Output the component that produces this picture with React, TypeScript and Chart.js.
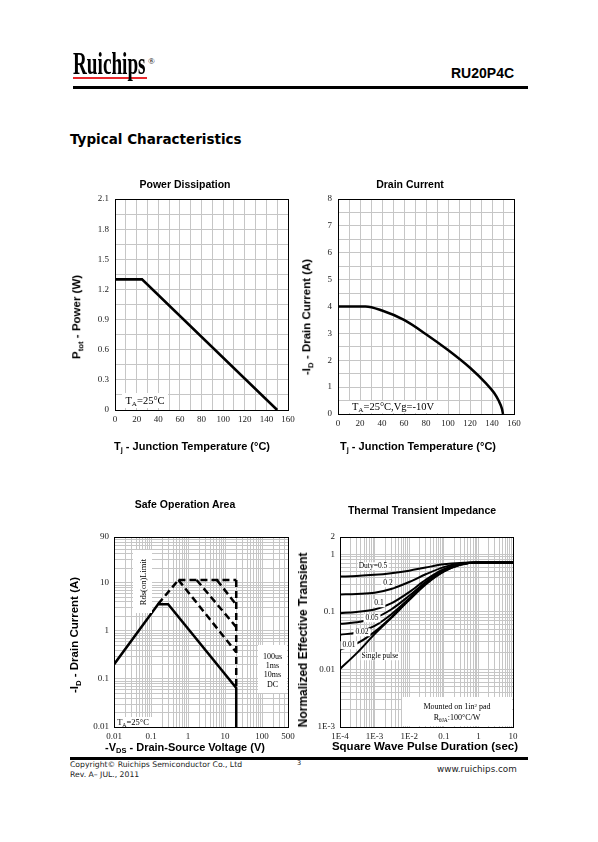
import React, { useEffect, useRef } from "react";
import { Chart, registerables } from "chart.js";

Chart.register(...registerables);

// ---------------- data ----------------
// Power dissipation vs junction temperature
const pdTemp = [0, 25, 150];
const pdPower = [1.3, 1.3, 0];
const pdYLabels = ["0", "0.3", "0.6", "0.9", "1.2", "1.5", "1.8", "2.1"];
const tempLabels = ["0", "20", "40", "60", "80", "100", "120", "140", "160"];

// Drain current vs junction temperature
const idTemp = [0, 25, 40, 60, 80, 100, 120, 135, 142, 146, 149, 150];
const idCurrent = [4, 4, 3.85, 3.5, 2.97, 2.38, 1.72, 1.12, 0.78, 0.5, 0.2, 0];
const idYLabels = ["0", "1", "2", "3", "4", "5", "6", "7", "8"];

// Safe operating area
const soaDcV = [0.01, 0.155, 0.29, 20, 20];
const soaDcI = [0.2, 3.6, 3.6, 0.065, 0.01];
const soaRdsV = [0.155, 0.55];
const soaRdsI = [3.6, 11.5];
const soaTopV = [0.55, 20];
const soaTopI = [11.5, 11.5];
const soa10msV = [0.55, 20];
const soa10msI = [11.5, 0.36];
const soa1msV = [1.7, 20];
const soa1msI = [11.5, 1.2];
const soa100usV = [6, 20];
const soa100usI = [11.5, 3.5];
const soaEdgeV = [20, 20];
const soaEdgeI = [11.5, 0.065];
const soaXTickValues = [0.01, 0.1, 1, 10, 100, 500];
const soaXTickLabels = ["0.01", "0.1", "1", "10", "100", "500"];
const soaYTickValues = [0.01, 0.1, 1, 10, 90];
const soaYTickLabels = ["0.01", "0.1", "1", "10", "90"];

// Thermal transient impedance
const ztTime = [1e-4, 3e-4, 1e-3, 3e-3, 1e-2, 3e-2, 0.1, 0.3, 1, 3, 10];
const ztDuty05 = [0.41, 0.42, 0.44, 0.47, 0.52, 0.59, 0.67, 0.71, 0.72, 0.72, 0.72];
const ztDuty02 = [0.2, 0.205, 0.215, 0.25, 0.33, 0.45, 0.6, 0.69, 0.72, 0.72, 0.72];
const ztDuty01 = [0.095, 0.1, 0.11, 0.14, 0.22, 0.36, 0.55, 0.68, 0.72, 0.72, 0.72];
const ztDuty005 = [0.062, 0.066, 0.078, 0.11, 0.19, 0.33, 0.53, 0.67, 0.72, 0.72, 0.72];
const ztDuty002 = [0.04, 0.044, 0.057, 0.09, 0.17, 0.32, 0.52, 0.67, 0.72, 0.72, 0.72];
const ztDuty001 = [0.022, 0.028, 0.045, 0.08, 0.165, 0.31, 0.51, 0.66, 0.72, 0.72, 0.72];
const ztSingle = [0.0102, 0.019, 0.041, 0.078, 0.16, 0.3, 0.5, 0.66, 0.72, 0.72, 0.72];
const ztXTickValues = [1e-4, 1e-3, 1e-2, 0.1, 1, 10];
const ztXTickLabels = ["1E-4", "1E-3", "1E-2", "0.1", "1", "10"];
const ztYTickValues = [0.001, 0.01, 0.1, 1, 2];
const ztYTickLabels = ["1E-3", "0.01", "0.1", "1", "2"];

// ---------------- helpers ----------------
const GRID = "#c6c6c6";
const TICK_FONT = { family: "Liberation Serif", size: 9 };

function linGrid(min: number, max: number, step: number) {
  const out: number[] = [];
  const n = Math.round((max - min) / step);
  for (let i = 0; i <= n; i++) out.push(Number((min + i * step).toFixed(6)));
  return out;
}
function logGrid(min: number, max: number) {
  const out: number[] = [];
  const e0 = Math.floor(Math.log10(min));
  const e1 = Math.ceil(Math.log10(max));
  for (let e = e0; e <= e1; e++) {
    for (let m = 1; m <= 9; m++) {
      const v = Number((m * Math.pow(10, e)).toPrecision(6));
      if (v >= min * 0.999999 && v <= max * 1.000001) out.push(v);
    }
  }
  return out;
}
function labelFrom(values: number[], labels: string[]) {
  return (v: number) => {
    const i = values.findIndex((t) => Math.abs(t - v) <= Math.abs(t) * 1e-6 + 1e-12);
    return i >= 0 ? labels[i] : "";
  };
}

function axis(type: string, min: number, max: number, grid: number[], label: (v: number) => string, size: number, pad: number) {
  return {
    type,
    min,
    max,
    bounds: "data",
    afterBuildTicks: (s: any) => {
      s.ticks = grid.map((v) => ({ value: v }));
    },
    afterFit: (s: any) => {
      if (s.isHorizontal()) s.height = size;
      else s.width = size;
      s.paddingLeft = 0;
      s.paddingRight = 0;
      s.paddingTop = 0;
      s.paddingBottom = 0;
    },
    ticks: {
      autoSkip: false,
      maxRotation: 0,
      minRotation: 0,
      padding: pad,
      color: "#222",
      font: TICK_FONT,
      callback: (_v: any, i: number) => label(grid[i]),
    },
    grid: { color: GRID, lineWidth: 1, drawTicks: false },
    border: { display: false },
  };
}

function series(xs: number[], ys: number[], extra: any = {}) {
  return {
    data: xs.map((x, i) => ({ x, y: ys[i] })),
    borderColor: "#000",
    borderWidth: 2.5,
    pointRadius: 0,
    fill: false,
    tension: 0,
    ...extra,
  };
}

const framePlugin = {
  id: "frame",
  beforeDatasetsDraw(chart: any) {
    const { ctx, chartArea } = chart;
    const { left, top, right, bottom } = chartArea;
    ctx.save();
    ctx.strokeStyle = "#000";
    ctx.lineWidth = 1;
    ctx.strokeRect(left + 0.5, top + 0.5, right - left, bottom - top);
    ctx.restore();
  },
};

function makeConfig(datasets: any[], x: any, y: any, padRight: number) {
  return {
    type: "line",
    data: { datasets },
    options: {
      responsive: false,
      maintainAspectRatio: false,
      animation: false,
      layout: { padding: { top: 6, right: padRight, left: 0, bottom: 0 } },
      plugins: { legend: { display: false }, tooltip: { enabled: false }, title: { display: false } },
      scales: { x, y },
    },
    plugins: [framePlugin],
  };
}

function ChartCanvas(props: { left: number; top: number; width: number; height: number; make: () => any }) {
  const ref = useRef<HTMLCanvasElement>(null);
  useEffect(() => {
    const chart = new Chart(ref.current as HTMLCanvasElement, props.make());
    return () => chart.destroy();
  }, []);
  return (
    <canvas
      ref={ref}
      width={props.width}
      height={props.height}
      style={{ position: "absolute", left: props.left, top: props.top, width: props.width, height: props.height }}
    />
  );
}

// ---------------- chart configs ----------------
const makePower = () =>
  makeConfig(
    [series(pdTemp, pdPower, { borderWidth: 2.6 })],
    axis("linear", 0, 160, linGrid(0, 160, 10), labelFrom(linGrid(0, 160, 20), tempLabels), 22, 4),
    axis("linear", 0, 2.1, linGrid(0, 2.1, 0.15), labelFrom(linGrid(0, 2.1, 0.3), pdYLabels), 40, 6),
    12
  );

const makeDrain = () =>
  makeConfig(
    [series(idTemp, idCurrent, { cubicInterpolationMode: "monotone" })],
    axis("linear", 0, 160, linGrid(0, 160, 10), labelFrom(linGrid(0, 160, 20), tempLabels), 22, 4),
    axis("linear", 0, 8, linGrid(0, 8, 0.5), labelFrom(linGrid(0, 8, 1), idYLabels), 40, 6),
    12
  );

const dash = { borderDash: [7, 4] };
const makeSoa = () =>
  makeConfig(
    [
      series(soaRdsV, soaRdsI, dash),
      series(soaTopV, soaTopI, dash),
      series(soa10msV, soa10msI, dash),
      series(soa1msV, soa1msI, dash),
      series(soa100usV, soa100usI, dash),
      series(soaEdgeV, soaEdgeI, dash),
      series(soaDcV, soaDcI),
    ],
    axis("logarithmic", 0.01, 500, logGrid(0.01, 500), labelFrom(soaXTickValues, soaXTickLabels), 22, 4),
    axis("logarithmic", 0.01, 90, logGrid(0.01, 90), labelFrom(soaYTickValues, soaYTickLabels), 40, 5),
    14
  );

const thermal = { borderWidth: 2, cubicInterpolationMode: "monotone" };
const makeThermal = () =>
  makeConfig(
    [
      series(ztTime, ztDuty05, thermal),
      series(ztTime, ztDuty02, thermal),
      series(ztTime, ztDuty01, thermal),
      series(ztTime, ztDuty005, thermal),
      series(ztTime, ztDuty002, thermal),
      series(ztTime, ztDuty001, thermal),
      series(ztTime, ztSingle, thermal),
    ],
    axis("logarithmic", 1e-4, 10, logGrid(1e-4, 10), labelFrom(ztXTickValues, ztXTickLabels), 22, 4),
    axis("logarithmic", 0.001, 2, logGrid(0.001, 2), labelFrom(ztYTickValues, ztYTickLabels), 40, 5),
    14
  );

// ---------------- text helpers ----------------
const SANS = "'Liberation Sans', Arial, sans-serif";
const SERIF = "'Liberation Serif', 'Times New Roman', serif";
const VERD = "'DejaVu Sans', Verdana, sans-serif";

function Sub({ children }: { children: any }) {
  return <span style={{ fontSize: "0.68em", position: "relative", top: "0.32em" }}>{children}</span>;
}
function Sup({ children }: { children: any }) {
  return <span style={{ fontSize: "0.62em", position: "relative", top: "-0.5em" }}>{children}</span>;
}

function T(props: { x: number; y: number; size: number; bold?: boolean; font?: string; rot?: boolean; children: any; style?: any }) {
  return (
    <div
      style={{
        position: "absolute",
        left: props.x,
        top: props.y,
        transform: "translate(-50%,-50%)" + (props.rot ? " rotate(-90deg)" : ""),
        whiteSpace: "nowrap",
        lineHeight: 1,
        fontSize: props.size,
        fontWeight: props.bold ? 700 : 400,
        fontFamily: props.font || SANS,
        color: "#000",
        filter: "grayscale(1)",
        ...(props.style || {}),
      }}
    >
      {props.children}
    </div>
  );
}

function Box(props: { left: number; top: number; width: number; height: number; children?: any; style?: any }) {
  return (
    <div
      style={{
        position: "absolute",
        left: props.left,
        top: props.top,
        width: props.width,
        height: props.height,
        background: "#fff",
        fontFamily: SERIF,
        color: "#111",
        ...(props.style || {}),
      }}
    >
      {props.children}
    </div>
  );
}

export default function App() {
  return (
    <div style={{ position: "absolute", left: 0, top: 0, width: 598, height: 842, background: "#fff", overflow: "hidden" }}>
      {/* header */}
      <div style={{ position: "absolute", left: 73, top: 77, width: 74, height: 2, background: "#e8282c" }} />
      <div
        style={{
          position: "absolute",
          left: 73,
          top: 47,
          fontFamily: SERIF,
          fontWeight: 700,
          fontSize: 32,
          lineHeight: 1,
          transform: "scaleX(0.6)",
          transformOrigin: "left top",
          whiteSpace: "nowrap",
          color: "#000",
        }}
      >
        Ruichips
      </div>
      <div style={{ position: "absolute", left: 148, top: 57, fontFamily: SERIF, fontSize: 9, lineHeight: 1 }}>®</div>
      <div style={{ position: "absolute", left: 451, top: 66, fontFamily: SANS, fontWeight: 700, fontSize: 14, lineHeight: 1 }}>RU20P4C</div>
      <div style={{ position: "absolute", left: 73, top: 86, width: 455, height: 3, background: "#000" }} />
      <div style={{ position: "absolute", left: 70, top: 133, fontFamily: VERD, fontWeight: 700, fontSize: 13.5, lineHeight: 1 }}>
        Typical Characteristics
      </div>

      {/* chart 1 */}
      <ChartCanvas left={75} top={193} width={225} height={239} make={makePower} />
      <T x={185} y={184} size={10.5} bold>Power Dissipation</T>
      <T x={77} y={317} size={11.5} bold rot>
        P<Sub>tot</Sub> - Power (W)
      </T>
      <T x={192} y={446} size={11} bold>
        T<Sub>j</Sub> - Junction Temperature (°C)
      </T>
      <Box left={122} top={393} width={46} height={15}>
        <T x={23} y={8} size={10.5} font={SERIF}>
          T<Sub>A</Sub>=25°C
        </T>
      </Box>

      {/* chart 2 */}
      <ChartCanvas left={298} top={193} width={228} height={243} make={makeDrain} />
      <T x={410} y={184} size={10.5} bold>Drain Current</T>
      <T x={307} y={317} size={11.5} bold rot>
        -I<Sub>D</Sub> - Drain Current (A)
      </T>
      <T x={418} y={446} size={11} bold>
        T<Sub>j</Sub> - Junction Temperature (°C)
      </T>
      <Box left={348} top={401} width={90} height={12}>
        <T x={45} y={6} size={10.5} font={SERIF}>
          T<Sub>A</Sub>=25°C,Vg=-10V
        </T>
      </Box>

      {/* chart 3 */}
      <ChartCanvas left={74} top={531} width={228} height={218} make={makeSoa} />
      <T x={185} y={504} size={10.5} bold>Safe Operation Area</T>
      <T x={75} y={635} size={11.5} bold rot>
        -I<Sub>D</Sub> - Drain Current (A)
      </T>
      <T x={185} y={747} size={11} bold>
        -V<Sub>DS</Sub> - Drain-Source Voltage (V)
      </T>
      <Box left={133} top={550} width={19} height={63}>
        <T x={9.5} y={31.5} size={8.5} font={SERIF} rot>
          Rds(on)Limit
        </T>
      </Box>
      <Box left={258} top={645} width={29} height={48}>
        <T x={14.5} y={12} size={8} font={SERIF}>100us</T>
        <T x={14.5} y={21} size={8} font={SERIF}>1ms</T>
        <T x={14.5} y={30} size={8} font={SERIF}>10ms</T>
        <T x={14.5} y={40} size={8} font={SERIF}>DC</T>
      </Box>
      <Box left={115} top={717} width={37} height={10}>
        <T x={18} y={5} size={8.5} font={SERIF}>
          T<Sub>A</Sub>=25°C
        </T>
      </Box>

      {/* chart 4 */}
      <ChartCanvas left={300} top={531} width={227} height={218} make={makeThermal} />
      <T x={422} y={510} size={10.5} bold>Thermal Transient Impedance</T>
      <T x={303} y={640} size={12} bold rot>
        Normalized Effective Transient
      </T>
      <T x={425} y={747} size={11.5} bold>
        Square Wave Pulse Duration (sec)
      </T>
      <T x={373} y={566} size={7.5} font={SERIF} style={{ background: "#fff", padding: "0 1px" }}>Duty=0.5</T>
      <T x={388} y={583} size={7.5} font={SERIF} style={{ background: "#fff", padding: "0 2px" }}>0.2</T>
      <T x={379} y={603} size={7.5} font={SERIF} style={{ background: "#fff", padding: "0 2px" }}>0.1</T>
      <T x={372} y={618} size={7.5} font={SERIF} style={{ background: "#fff", padding: "0 2px" }}>0.05</T>
      <T x={362} y={632} size={7.5} font={SERIF} style={{ background: "#fff", padding: "0 2px" }}>0.02</T>
      <T x={349} y={645} size={7.5} font={SERIF} style={{ background: "#fff", padding: "0 2px" }}>0.01</T>
      <T x={380} y={656} size={7.5} font={SERIF} style={{ background: "#fff", padding: "0 1px" }}>Single pulse</T>
      <Box left={402} top={697} width={110} height={29}>
        <T x={55} y={10} size={8} font={SERIF}>
          Mounted on 1in<Sup>2</Sup> pad
        </T>
        <T x={55} y={21} size={8} font={SERIF}>
          R<Sub>θJA</Sub>:100°C/W
        </T>
      </Box>

      {/* footer */}
      <div style={{ position: "absolute", left: 70, top: 757, width: 458, height: 3, background: "#000" }} />
      <div style={{ position: "absolute", left: 70, top: 761, fontFamily: VERD, fontSize: 7.7, lineHeight: 1, color: "#222" }}>
        Copyright© Ruichips Semiconductor Co., Ltd
      </div>
      <div style={{ position: "absolute", left: 70, top: 771, fontFamily: VERD, fontSize: 7.7, lineHeight: 1, color: "#222" }}>
        Rev. A– JUL., 2011
      </div>
      <div style={{ position: "absolute", left: 297, top: 760, fontFamily: VERD, fontSize: 6.5, lineHeight: 1, color: "#222" }}>3</div>
      <div style={{ position: "absolute", left: 437, top: 765, fontFamily: VERD, fontSize: 8.8, lineHeight: 1, color: "#222" }}>
        www.ruichips.com
      </div>
    </div>
  );
}
